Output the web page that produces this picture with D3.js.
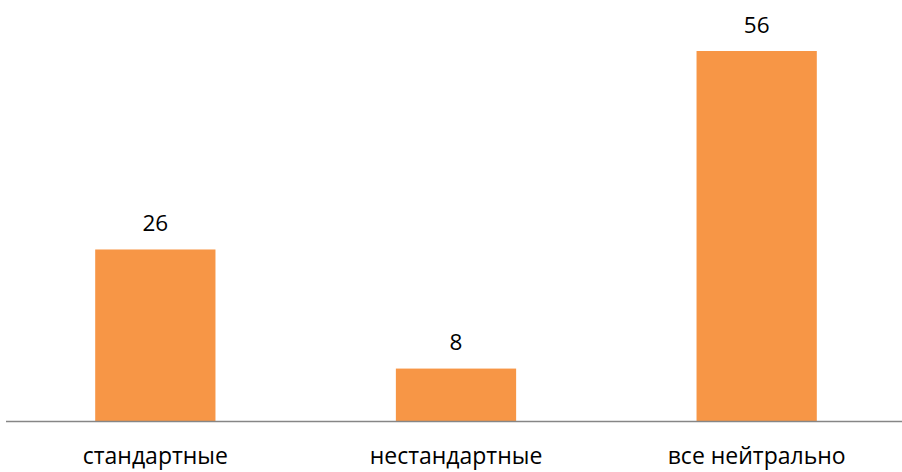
<!DOCTYPE html>
<html>
<head>
<meta charset="utf-8">
<style>
  body { margin: 0; background: #fff; }
  svg { display: block; font-family: "Open Sans", "Noto Sans", sans-serif; }
</style>
</head>
<body>
<svg width="902" height="472"></svg>
<script src="https://cdn.jsdelivr.net/npm/d3@7/dist/d3.min.js"></script>
<script>
  var categories = ["стандартные", "нестандартные", "все нейтрально"];
  var values = [26, 8, 56];

  var svg = d3.select("svg"),
      baseY = 421.5;

  var x = d3.scaleBand()
      .domain(categories)
      .range([5, 907])
      .paddingInner(0.6)
      .paddingOuter(0.3);

  var y = d3.scaleLinear()
      .domain([0, 56])
      .range([baseY, 51]);

  var data = categories.map(function(c, i) { return {name: c, value: values[i]}; });

  svg.selectAll(".bar")
    .data(data)
    .enter().append("rect")
      .attr("class", "bar")
      .attr("x", function(d) { return x(d.name); })
      .attr("width", x.bandwidth())
      .attr("y", function(d) { return y(d.value); })
      .attr("height", function(d) { return baseY - y(d.value); })
      .attr("fill", "#f79646");

  // baseline
  svg.append("line")
      .attr("x1", 6).attr("x2", 902)
      .attr("y1", baseY).attr("y2", baseY)
      .attr("stroke", "#868686")
      .attr("stroke-width", 1.5);

  svg.selectAll(".val")
    .data(data)
    .enter().append("text")
      .attr("class", "val")
      .attr("x", function(d) { return x(d.name) + x.bandwidth() / 2; })
      .attr("y", function(d) { return y(d.value) - 18.5; })
      .attr("text-anchor", "middle")
      .attr("font-size", 22.5)
      .attr("fill", "#000")
      .text(function(d) { return d.value; });

  svg.selectAll(".cat")
    .data(data)
    .enter().append("text")
      .attr("class", "cat")
      .attr("x", function(d) { return x(d.name) + x.bandwidth() / 2; })
      .attr("y", 464)
      .attr("text-anchor", "middle")
      .attr("font-size", 23)
      .attr("fill", "#000")
      .text(function(d) { return d.name; });
</script>
</body>
</html>
